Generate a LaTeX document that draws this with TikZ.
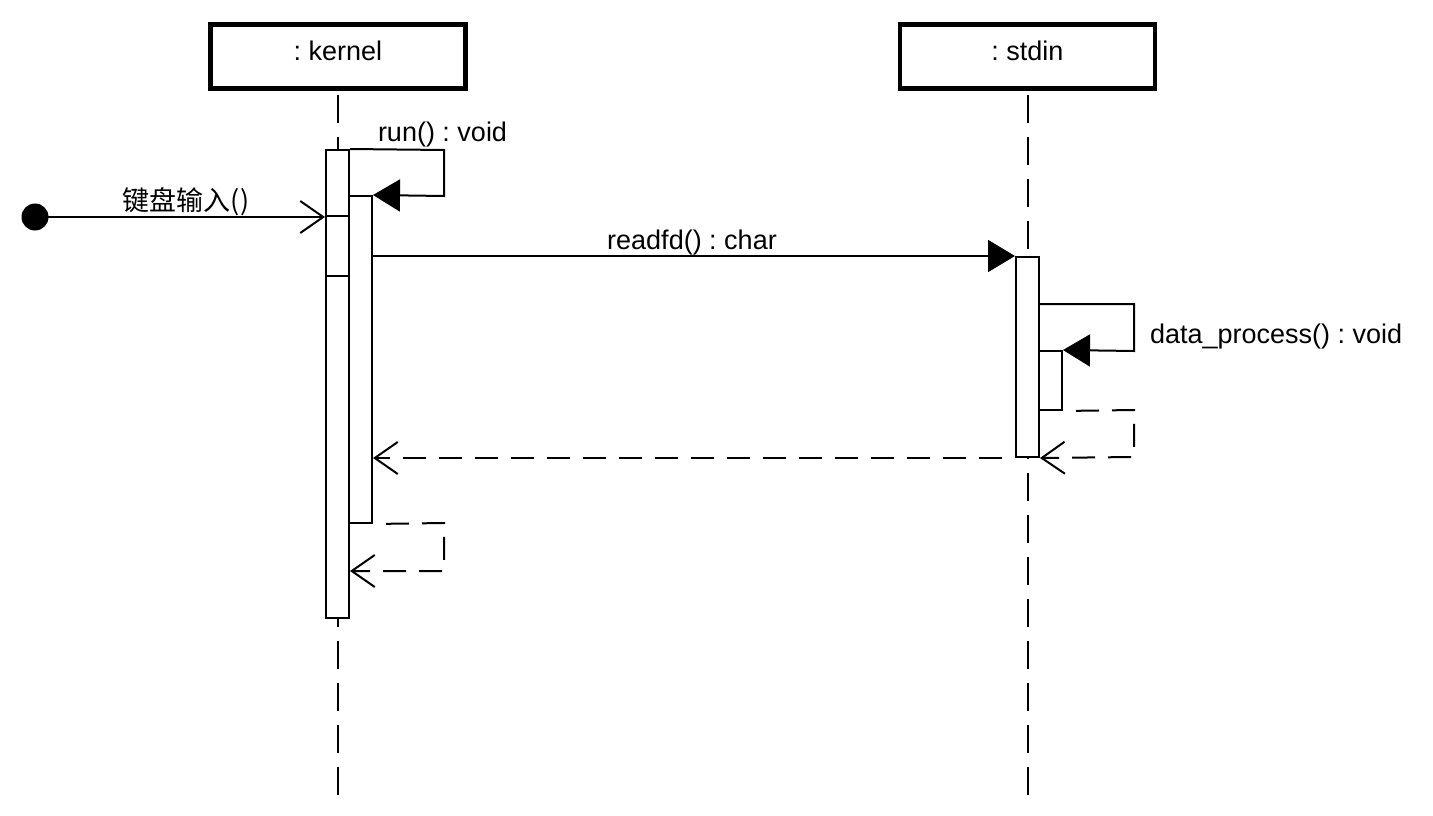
\documentclass[tikz,border=0pt]{standalone}
\usepackage{fontspec}
\setmainfont{Liberation Sans}
\newfontfamily\cjk{Noto Sans CJK SC}
\usetikzlibrary{arrows.meta}
\frenchspacing
\begin{document}
\begin{tikzpicture}[x=1pt,y=-1pt,line width=2pt,
  every node/.style={font=\fontsize{27}{32}\selectfont},
  head/.style={draw,line width=4.5pt,minimum width=255pt,minimum height=64pt,inner sep=0pt,text height=20pt,text depth=13pt},
  lifeline/.style={line width=2pt,dash pattern=on 28pt off 14pt},
  bar/.style={draw,fill=white,minimum width=23pt,inner sep=0pt,line width=2pt},
  sync/.style={-{Triangle[length=27pt,width=32pt]}},
  open/.style={-{Straight Barb[length=23pt,width=32pt]}},
  ret/.style={open,dash pattern=on 23pt off 13pt,dash phase=23pt},
  lbl/.style={anchor=base,inner sep=0pt}]
\useasboundingbox (0,0) rectangle (1433,816);
% lifeline heads
\node[head] (kh) at (338,56.5) {: kernel};
\node[head] (sh) at (1027.5,56.5) {: stdin};
\coordinate (kend) at (338,800);
\coordinate (send) at (1027.5,800);
\draw[lifeline,dash phase=-4pt] (kh.south) -- (kend);
\draw[lifeline,dash phase=-4pt] (sh.south) -- (send);
% activation bars
\node[bar,minimum height=468pt] (k1) at (337.5,384) {};
\node[bar,minimum height=60pt] (k2) at (337.5,246) {};
\node[bar,minimum height=327pt] (k3) at (360.5,359.5) {};
\node[bar,minimum height=200pt] (s1) at (1027.5,357) {};
\node[bar,minimum height=59pt] (s2) at (1050.5,380.5) {};
% found message
\node[circle,fill=black,minimum size=27pt,inner sep=0pt] (start) at (35,217) {};
\draw[open] (start.center) -- (start.center -| k1.west);
\node[lbl] (l0) at (186,210) {\cjk 键盘输入()};
% run() self call
\coordinate (r1) at (444,150);
\coordinate (r2) at (444,196);
\draw[sync] (k1.north east) -- (r1) -- (r2) -- (k3.north east);
\node[lbl,anchor=base west] (l1) at (377,141) {run() : void};
% readfd()
\draw[sync] (s1.north west -| k3.east) -- (s1.north west);
\node[lbl] (l2) at (692,249) {readfd() : char};
% data_process() self call
\coordinate (d0) at (1039,304);
\coordinate (d1) at (1134,304);
\coordinate (d2) at (1134,351);
\draw[sync] (d0) -- (d1) -- (d2) -- (s2.north east);
\node[lbl,anchor=base west] (l3) at (1149,343) {data\_process() : void};
% returns
\coordinate (e1) at (1134,410);
\coordinate (e2) at (1134,457);
\draw[ret] (s2.south east) -- (e1) -- (e2) -- (s1.south east);
\draw[ret] (s1.south west) -- (s1.south west -| k3.east);
\coordinate (f1) at (444,523);
\coordinate (f2) at (444,571);
\draw[ret] (k3.south east) -- (f1) -- (f2) -- (f2 -| k1.east);
\end{tikzpicture}
\end{document}
